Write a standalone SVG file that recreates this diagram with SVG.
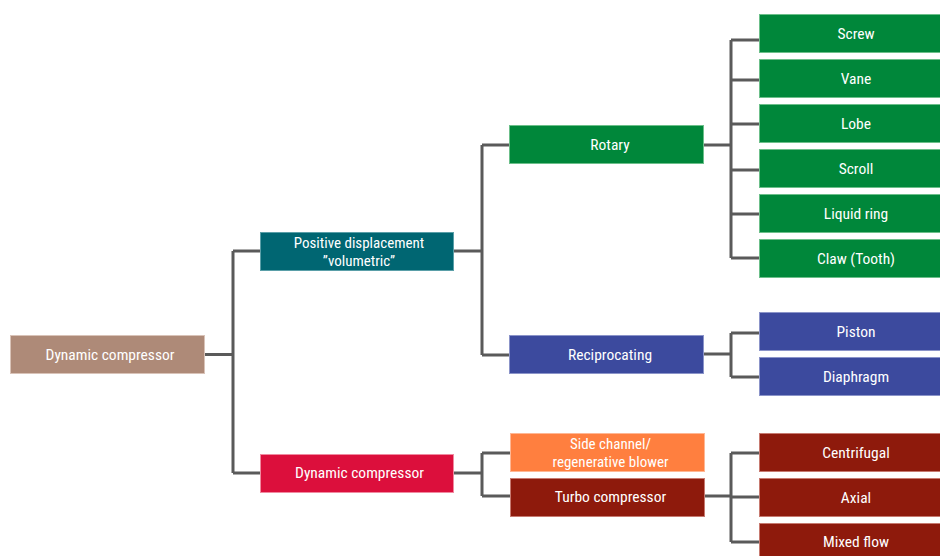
<svg xmlns="http://www.w3.org/2000/svg" width="940" height="556" viewBox="0 0 940 556">
<style>
.t{font-family:"Liberation Sans Narrow","Roboto Condensed","Roboto","Liberation Sans",sans-serif;font-size:15.5px;fill:#fff;text-anchor:middle;dominant-baseline:central}
.s{font-size:15px}
.c{fill:none;stroke:#5a5a5a;stroke-width:3;stroke-linejoin:miter}
.root{fill:#ae8a78;stroke:#d9c3b8}
.teal{fill:#006672;stroke:#5a9fa8}
.green{fill:#00873a;stroke:#6cbf8a}
.blue{fill:#3c4a9e;stroke:#8b94c9}
.orange{fill:#ff7f3f;stroke:#ffb794}
.dred{fill:#8e1a0c;stroke:#c77a70}
.red{fill:#dc0f3c;stroke:#f08aa0}
</style>
<rect width="940" height="556" fill="#fff"/>
<g id="connectors">
<path class="c" d="M204 354.5H233M233 251V473M233 251H260M233 473H260"/>
<path class="c" d="M453 251H482M482 145V355M482 145H509M482 355H509"/>
<path class="c" d="M703 145H731M731 40V258M731 40H759M731 80H759M731 124H759M731 170H759M731 214H759M731 258H759"/>
<path class="c" d="M703 354H731M731 333V377M731 333H759M731 377H759"/>
<path class="c" d="M453 473H482M482 453V496M482 453H510M482 496H510"/>
<path class="c" d="M704 496H731M731 453V542M731 453H759M731 497H759M731 542H759"/>
</g>
<g id="n-root"><rect class="root" x="10.5" y="335.5" width="194" height="38"/><text class="t" x="110" y="354.5">Dynamic compressor</text></g>
<g id="n-pd"><rect class="teal" x="260.5" y="232.5" width="193" height="38"/><text class="t s" x="359" y="243">Positive displacement</text><text class="t s" x="359" y="260.5">”volumetric”</text></g>
<g id="n-dyn"><rect class="red" x="260.5" y="454.5" width="193" height="38"/><text class="t" x="359.5" y="473">Dynamic compressor</text></g>
<g id="n-rotary"><rect class="green" x="509.5" y="125.5" width="194" height="38"/><text class="t" x="610" y="144.5">Rotary</text></g>
<g id="n-recip"><rect class="blue" x="509.5" y="335.5" width="194" height="38"/><text class="t" x="610" y="354.5">Reciprocating</text></g>
<g id="n-side"><rect class="orange" x="510.5" y="433.5" width="194" height="38"/><text class="t s" x="610.5" y="444">Side channel/</text><text class="t s" x="610.5" y="461.5">regenerative blower</text></g>
<g id="n-turbo"><rect class="dred" x="510.5" y="478.5" width="194" height="38"/><text class="t" x="610.5" y="497">Turbo compressor</text></g>
<g id="n-screw"><rect class="green" x="759.5" y="14.5" width="194" height="38"/><text class="t" x="856" y="34">Screw</text></g>
<g id="n-vane"><rect class="green" x="759.5" y="59.5" width="194" height="38"/><text class="t" x="856" y="79">Vane</text></g>
<g id="n-lobe"><rect class="green" x="759.5" y="104.5" width="194" height="38"/><text class="t" x="856" y="124">Lobe</text></g>
<g id="n-scroll"><rect class="green" x="759.5" y="149.5" width="194" height="38"/><text class="t" x="856" y="169">Scroll</text></g>
<g id="n-liquid"><rect class="green" x="759.5" y="194.5" width="194" height="38"/><text class="t" x="856" y="214">Liquid ring</text></g>
<g id="n-claw"><rect class="green" x="759.5" y="239.5" width="194" height="38"/><text class="t" x="856" y="258.5">Claw (Tooth)</text></g>
<g id="n-piston"><rect class="blue" x="759.5" y="312.5" width="194" height="38"/><text class="t" x="856" y="332">Piston</text></g>
<g id="n-diaphragm"><rect class="blue" x="759.5" y="357.5" width="194" height="38"/><text class="t" x="856" y="377">Diaphragm</text></g>
<g id="n-centrifugal"><rect class="dred" x="759.5" y="433.5" width="194" height="38"/><text class="t" x="856" y="453">Centrifugal</text></g>
<g id="n-axial"><rect class="dred" x="759.5" y="478.5" width="194" height="38"/><text class="t" x="856" y="497.5">Axial</text></g>
<g id="n-mixed"><rect class="dred" x="759.5" y="523.5" width="194" height="38"/><text class="t" x="856" y="542">Mixed flow</text></g>
</svg>
